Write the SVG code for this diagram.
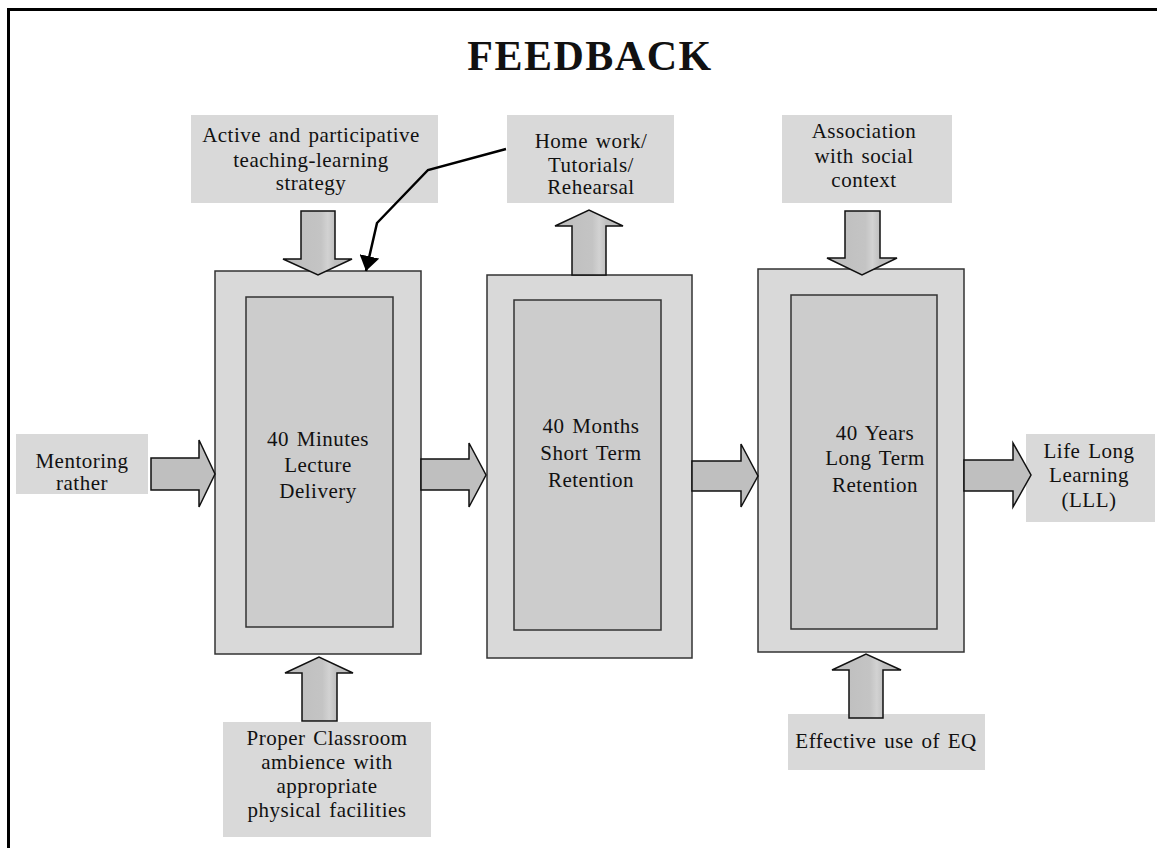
<svg xmlns="http://www.w3.org/2000/svg" width="1157" height="848" viewBox="0 0 1157 848">
  <defs>
    <style>
      text { font-family: "Liberation Serif", "Times New Roman", serif; fill: #111; }
      .lbl { font-size: 21px; letter-spacing: 0.5px; word-spacing: 2px; text-anchor: middle; }
      .title { font-size: 42px; font-weight: bold; text-anchor: middle; letter-spacing: 1.5px; }
      .note { fill: #d9d9d9; }
      .outer { fill: #d9d9d9; stroke: #333; stroke-width: 1.5; }
      .inner { fill: #cccccc; stroke: #333; stroke-width: 1.5; }
      .blk { fill: #bfbfbf; stroke: #111; stroke-width: 1.5; stroke-linejoin: miter; }
      .blkv { fill: url(#arrowFillV); stroke: #111; stroke-width: 1.5; stroke-linejoin: miter; }
      .link { fill: none; stroke: #000; stroke-width: 2.5; }
    </style>
    <linearGradient id="arrowFillV" x1="0" y1="0" x2="1" y2="0">
      <stop offset="0" stop-color="#bdbdbd"/>
      <stop offset="0.55" stop-color="#c4c4c4"/>
      <stop offset="0.65" stop-color="#d2d2d2"/>
      <stop offset="0.75" stop-color="#c0c0c0"/>
      <stop offset="1" stop-color="#bdbdbd"/>
    </linearGradient>
    <marker id="tri" viewBox="0 0 15 20" refX="15" refY="10" markerWidth="15" markerHeight="20" markerUnits="userSpaceOnUse" orient="auto">
      <path d="M0,0 L15,10 L0,20 Z" fill="#000"/>
    </marker>
  </defs>

  <rect width="1157" height="848" fill="#fff"/>
  <!-- frame: top and left rules -->
  <path d="M8.5,848 L8.5,9.5 L1157,9.5" fill="none" stroke="#000" stroke-width="3"/>

  <text class="title" x="590" y="70">FEEDBACK</text>

  <!-- stage boxes -->
  <g id="stage-minutes">
    <rect class="outer" x="215" y="271" width="206" height="383"/>
    <rect class="inner" x="246" y="297" width="147" height="330"/>
    <text class="lbl" x="318" y="446">40 Minutes</text>
    <text class="lbl" x="318" y="472">Lecture</text>
    <text class="lbl" x="318" y="498">Delivery</text>
  </g>
  <g id="stage-months">
    <rect class="outer" x="487" y="275" width="205" height="383"/>
    <rect class="inner" x="514" y="300" width="147" height="330"/>
    <text class="lbl" x="591" y="433">40 Months</text>
    <text class="lbl" x="591" y="460">Short Term</text>
    <text class="lbl" x="591" y="487">Retention</text>
  </g>
  <g id="stage-years">
    <rect class="outer" x="758" y="269" width="206" height="383"/>
    <rect class="inner" x="791" y="295" width="146" height="334"/>
    <text class="lbl" x="875" y="440">40 Years</text>
    <text class="lbl" x="875" y="465">Long Term</text>
    <text class="lbl" x="875" y="492">Retention</text>
  </g>

  <!-- side notes -->
  <g id="note-active">
    <rect class="note" x="191" y="115" width="247" height="88"/>
    <text class="lbl" x="311" y="142">Active and participative</text>
    <text class="lbl" x="311" y="167">teaching-learning</text>
    <text class="lbl" x="311" y="190">strategy</text>
  </g>
  <g id="note-homework">
    <rect class="note" x="507" y="115" width="167" height="88"/>
    <text class="lbl" x="591" y="148">Home work/</text>
    <text class="lbl" x="591" y="172">Tutorials/</text>
    <text class="lbl" x="591" y="194">Rehearsal</text>
  </g>
  <g id="note-social">
    <rect class="note" x="782" y="115" width="170" height="88"/>
    <text class="lbl" x="864" y="138">Association</text>
    <text class="lbl" x="864" y="163">with social</text>
    <text class="lbl" x="864" y="187">context</text>
  </g>
  <g id="note-mentoring">
    <rect class="note" x="16" y="434" width="132" height="60"/>
    <text class="lbl" x="82" y="468">Mentoring</text>
    <text class="lbl" x="82" y="490">rather</text>
  </g>
  <g id="note-lll">
    <rect class="note" x="1026" y="434" width="129" height="88"/>
    <text class="lbl" x="1089" y="458">Life Long</text>
    <text class="lbl" x="1089" y="482">Learning</text>
    <text class="lbl" x="1089" y="507">(LLL)</text>
  </g>
  <g id="note-classroom">
    <rect class="note" x="223" y="722" width="208" height="115"/>
    <text class="lbl" x="327" y="745">Proper Classroom</text>
    <text class="lbl" x="327" y="769">ambience with</text>
    <text class="lbl" x="327" y="793">appropriate</text>
    <text class="lbl" x="327" y="817">physical facilities</text>
  </g>
  <g id="note-eq">
    <rect class="note" x="788" y="714" width="197" height="56"/>
    <text class="lbl" x="886" y="748">Effective use of EQ</text>
  </g>

  <!-- connectors -->
  <g id="connectors">
    <polygon class="blk" points="151,458 199,458 199,440 215,474 199,507 199,490 151,490"/>
    <polygon class="blk" points="421,459 469,459 469,443 486,475 469,507 469,490 421,490"/>
    <polygon class="blk" points="692,461 741,461 741,444 758,476 741,507 741,491 692,491"/>
    <polygon class="blk" points="964,460 1013,460 1013,443 1031,475 1013,507 1013,491 964,491"/>
    <polygon class="blkv" points="301,211 335,211 335,259 352,259 318,275 283,259 301,259"/>
    <polygon class="blkv" points="845,211 880,211 880,258 897,258 862,275 827,258 845,258"/>
    <polygon class="blkv" points="572,275 572,226 555,226 589,210 623,226 606,226 606,275"/>
    <polygon class="blkv" points="302,721 302,673 285,673 319,657 353,673 337,673 337,721"/>
    <polygon class="blkv" points="849,718 849,670 832,670 866,654 901,670 883,670 883,718"/>
    <path class="link" d="M506,149 L428,170 L377,223 L366,271" marker-end="url(#tri)"/>
  </g>
</svg>
